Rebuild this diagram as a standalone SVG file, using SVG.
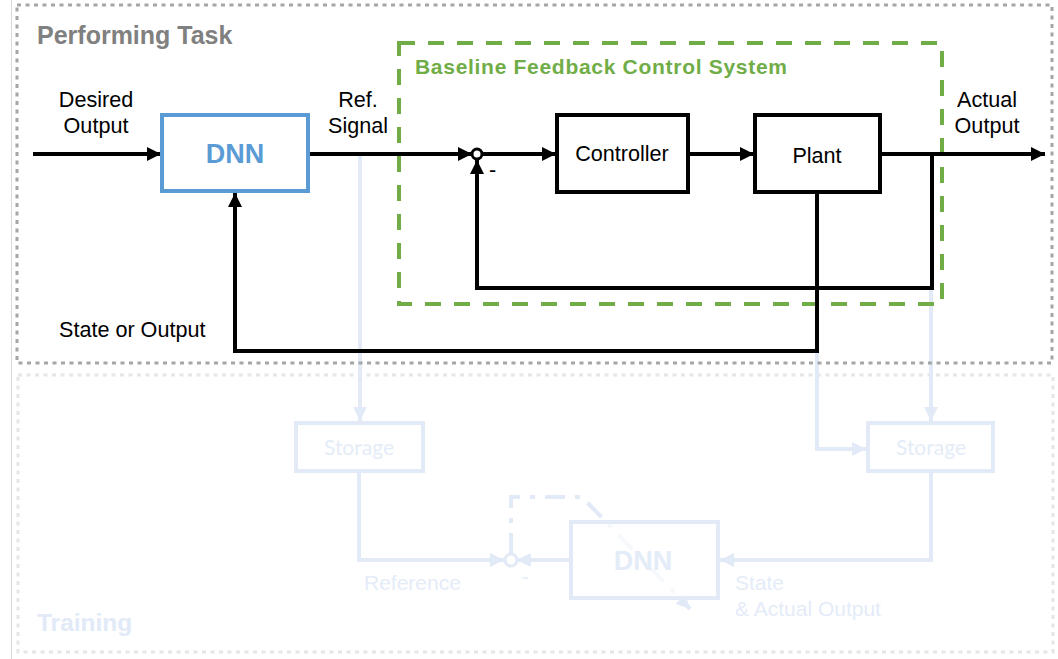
<svg xmlns="http://www.w3.org/2000/svg" width="1058" height="659" viewBox="0 0 1058 659">
<style>
.lbl{font-family:"Liberation Sans",Arial,sans-serif;font-size:21.6px;fill:#000}
.ctr{text-anchor:middle}
.ln{fill:none;stroke:#000;stroke-width:4}
.box{fill:#fff;stroke:#000;stroke-width:4}
.fl{fill:none;stroke:#e1eaf6;stroke-width:4}
.fbox{fill:none;stroke:#e1eaf6;stroke-width:4}
.ftxt{font-family:"Lato","Open Sans",sans-serif;font-size:21px;fill:#e4ecf8}
.ftxt2{font-family:"Liberation Sans",Arial,sans-serif;font-size:21px;fill:#e4ecf8}
</style>
<defs>
<marker id="ah" markerUnits="userSpaceOnUse" markerWidth="16" markerHeight="16" refX="14" refY="7" orient="auto"><path d="M0,0 L14,7 L0,14 z" fill="#000"/></marker>
<marker id="fah" markerUnits="userSpaceOnUse" markerWidth="16" markerHeight="16" refX="14" refY="7" orient="auto"><path d="M0,0 L14,7 L0,14 z" fill="#e1eaf6"/></marker>
</defs>
<rect width="1058" height="659" fill="#fff"/>
<line x1="11.5" y1="0" x2="11.5" y2="659" stroke="#d9d9d9" stroke-width="1"/>

<g id="training-frame">
<rect x="18" y="375" width="1035" height="277" fill="none" stroke="#e6e6e6" stroke-width="3" stroke-dasharray="4 4.5"/>
<text x="37" y="631" font-family="Liberation Sans,Arial,sans-serif" font-size="24.5" font-weight="bold" fill="#e2eaf7">Training</text>
</g>

<g id="faded-connectors">
<path class="fl" d="M360,156 V421" marker-end="url(#fah)"/>
<path class="fl" d="M359,472 V560 H504" marker-end="url(#fah)"/>
<path class="fl" d="M570,560 H517" marker-end="url(#fah)"/>
<path class="fl" d="M931,472 V560 H720" marker-end="url(#fah)"/>
<path class="fl" d="M931,290 V421" marker-end="url(#fah)"/>
<path class="fl" d="M817,352 V449 H866" marker-end="url(#fah)"/>
<path class="fl" d="M511,553 V497 H582 L690,609" stroke-dasharray="20 10 5 10" marker-end="url(#fah)"/>
<circle cx="511" cy="560" r="6" fill="#fff" stroke="#e1eaf6" stroke-width="3"/>
<text class="ftxt2" x="364" y="590">Reference</text>
<text class="ftxt2" x="522" y="584">-</text>
<text class="ftxt2" x="735" y="590">State</text>
<text class="ftxt2" x="735" y="616">&amp; Actual Output</text>
</g>

<g id="storage-left">
<rect class="fbox" x="296" y="423" width="127" height="48"/>
<text class="ftxt ctr" x="359" y="455">Storage</text>
</g>
<g id="storage-right">
<rect class="fbox" x="868" y="423" width="125" height="48"/>
<text class="ftxt ctr" x="931" y="455">Storage</text>
</g>
<g id="dnn-training">
<rect x="573" y="524" width="143" height="72" fill="#fff" fill-opacity="0.7"/>
<rect class="fbox" x="571" y="522" width="147" height="76"/>
<text x="643" y="570" text-anchor="middle" font-family="Liberation Sans,Arial,sans-serif" font-size="27" font-weight="bold" fill="#e4ecf8">DNN</text>
</g>

<g id="performing-frame">
<rect x="17" y="5" width="1035" height="358" fill="none" stroke="#a6a6a6" stroke-width="3" stroke-dasharray="4 4.5"/>
<text x="37" y="44" font-family="Liberation Sans,Arial,sans-serif" font-size="25" font-weight="bold" fill="#808080">Performing Task</text>
</g>

<g id="baseline-system">
<rect x="399" y="43" width="543" height="261" fill="none" stroke="#70ad47" stroke-width="4" stroke-dasharray="16 13"/>
<text x="415" y="74" font-family="Liberation Sans,Arial,sans-serif" font-size="21" font-weight="bold" fill="#70ad47" textLength="372" lengthAdjust="spacing">Baseline  Feedback Control System</text>
</g>

<g id="connectors">
<path class="ln" d="M33,154 H161" marker-end="url(#ah)"/>
<path class="ln" d="M308,154 H472" marker-end="url(#ah)"/>
<path class="ln" d="M482,154 H556" marker-end="url(#ah)"/>
<path class="ln" d="M688,154 H754" marker-end="url(#ah)"/>
<path class="ln" d="M880,154 H1045" marker-end="url(#ah)"/>
<path class="ln" d="M932,154 V288 H477 V160" marker-end="url(#ah)"/>
<path class="ln" d="M817,192 V351 H235 V193" marker-end="url(#ah)"/>
<circle cx="477" cy="154" r="5" fill="#fff" stroke="#000" stroke-width="3"/>
<text class="lbl" x="489" y="177">-</text>
</g>

<g id="dnn">
<rect x="162" y="115" width="146" height="76" fill="#fff" stroke="#5b9bd5" stroke-width="4"/>
<text x="235" y="163" text-anchor="middle" font-family="Liberation Sans,Arial,sans-serif" font-size="27" font-weight="bold" fill="#5b9bd5">DNN</text>
</g>
<g id="controller">
<rect class="box" x="557" y="115" width="131" height="77"/>
<text class="lbl ctr" x="622" y="161">Controller</text>
</g>
<g id="plant">
<rect class="box" x="755" y="115" width="125" height="77"/>
<text class="lbl ctr" x="817" y="163">Plant</text>
</g>

<g id="labels">
<text class="lbl ctr" x="96" y="107">Desired</text>
<text class="lbl ctr" x="96" y="133">Output</text>
<text class="lbl ctr" x="358" y="107">Ref.</text>
<text class="lbl ctr" x="358" y="133">Signal</text>
<text class="lbl ctr" x="987" y="107">Actual</text>
<text class="lbl ctr" x="987" y="133">Output</text>
<text class="lbl" x="59" y="337">State or Output</text>
</g>
</svg>
